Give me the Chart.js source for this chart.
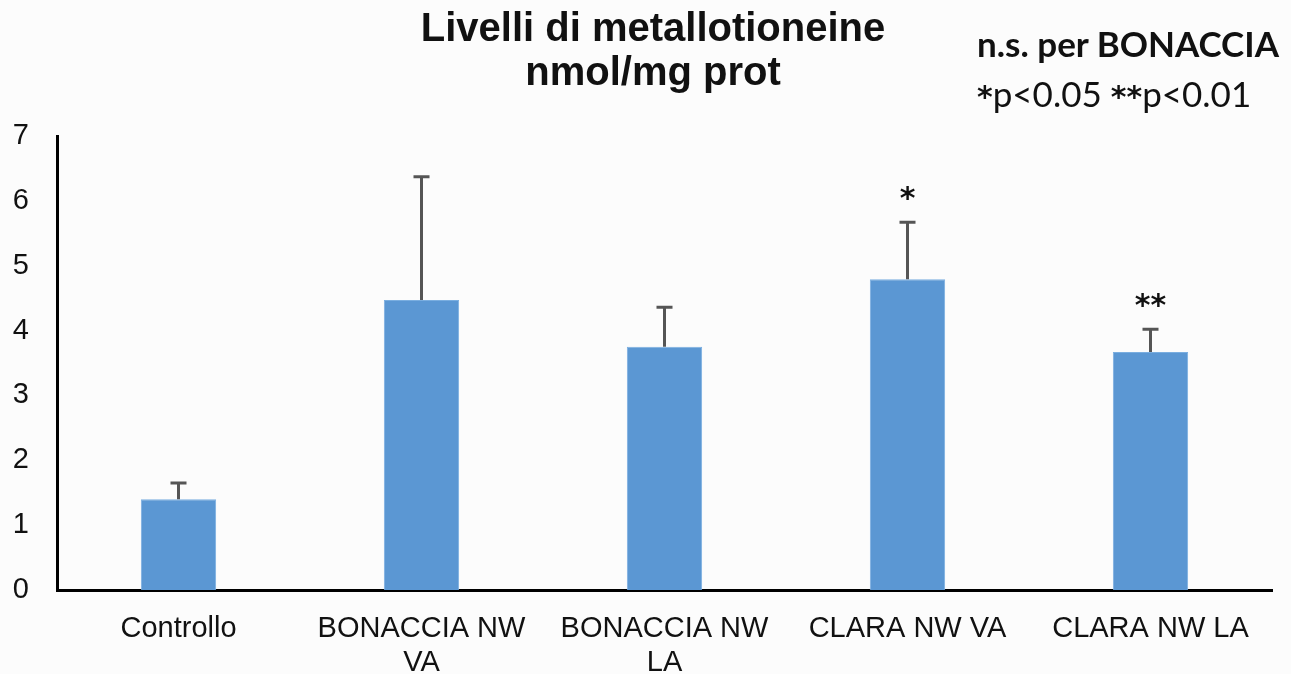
<!DOCTYPE html>
<html>
  <head>
    <meta charset="utf-8">
    <title>Livelli di metallotioneine</title>
    <script src="https://cdn.jsdelivr.net/npm/chart.js@4.4.1/dist/chart.umd.min.js"></script>
    <style>
      html, body { margin: 0; padding: 0; background: #fcfcfc; }
      #wrap { position: relative; width: 1291px; height: 674px; }
      #chart1 { position: absolute; left: 0; top: 0; }
      .title { position: absolute; left: 303px; width: 700px; text-align: center;
               font-family: "Liberation Sans", Arial, sans-serif; font-weight: bold; font-size: 40px; color: #111; }
      .note { position: absolute; left: 977px; font-family: Lato, "Open Sans", sans-serif; font-size: 35px; color: #111; white-space: nowrap; }
      .note b.ast { font-family: "DejaVu Sans", sans-serif; font-size: 30px; }
    </style>
  </head>
  <body>
    <div id="wrap">
      <canvas id="chart1" width="1291" height="674"></canvas>
      <div class="title" style="top:5px">Livelli di metallotioneine</div>
      <div class="title" style="top:49px">nmol/mg prot</div>
      <div class="note" style="top:22px;font-weight:bold">n.s. per BONACCIA</div>
      <div class="note" style="top:72px"><b class="ast">*</b>p&lt;0.05 <b class="ast">**</b>p&lt;0.01</div>
    </div>
    <script>
      var categories = [['Controllo'], ['BONACCIA NW', 'VA'], ['BONACCIA NW', 'LA'], ['CLARA NW VA'], ['CLARA NW LA']];
      var means  = [1.40, 4.47, 3.75, 4.79, 3.67];
      var errors = [0.25, 1.90, 0.61, 0.88, 0.35];
      var sigLabels = ['', '', '', '*', '**'];
      var yTicks = [0, 1, 2, 3, 4, 5, 6, 7];

      // barre di errore + asterischi
      var errPlugin = {
        id: 'errbars',
        afterDatasetsDraw: function(chart) {
          var ctx = chart.ctx;
          var ys = chart.scales.y;
          var meta = chart.getDatasetMeta(0);
          ctx.save();
          ctx.strokeStyle = '#555';
          ctx.lineWidth = 3;
          for (var i = 0; i < means.length; i++) {
            var x = meta.data[i].x;
            var y0 = ys.getPixelForValue(means[i]);
            var y1 = ys.getPixelForValue(means[i] + errors[i]);
            ctx.beginPath();
            ctx.moveTo(x, y0); ctx.lineTo(x, y1);
            ctx.moveTo(x - 8, y1); ctx.lineTo(x + 8, y1);
            ctx.stroke();
            if (sigLabels[i]) {
              ctx.fillStyle = '#111';
              ctx.font = 'bold 30px "DejaVu Sans", sans-serif';
              ctx.textAlign = 'center';
              ctx.textBaseline = 'middle';
              ctx.fillText(sigLabels[i], x, y1 - 22);
            }
          }
          ctx.restore();
        }
      };

      new Chart(document.getElementById('chart1').getContext('2d'), {
        type: 'bar',
        data: {
          labels: categories,
          datasets: [{
            data: means,
            backgroundColor: '#5B97D3',
            borderColor: '#7aaee0',
            borderWidth: 1,
            barPercentage: 0.31,
            categoryPercentage: 1
          }]
        },
        options: {
          responsive: false,
          animation: false,
          layout: { padding: { top: 136, right: 19, left: 0, bottom: 0 } },
          plugins: { legend: { display: false }, title: { display: false }, tooltip: { enabled: false } },
          scales: {
            x: {
              grid: { display: false, drawTicks: false },
              border: { display: true, color: '#000', width: 3 },
              ticks: { color: '#111', padding: 22, maxRotation: 0, autoSkip: false,
                       font: { family: '"Liberation Sans", Arial, sans-serif', size: 29, lineHeight: 1.17 } },
              afterFit: function(s) { s.height = 84; }
            },
            y: {
              min: 0, max: 7,
              afterBuildTicks: function(s) { s.ticks = yTicks.map(function(v) { return { value: v }; }); },
              grid: { display: false, drawTicks: false },
              border: { display: true, color: '#000', width: 3 },
              ticks: { color: '#111', padding: 28,
                       font: { family: '"Liberation Sans", Arial, sans-serif', size: 29 } },
              afterFit: function(s) { s.width = 57; }
            }
          }
        },
        plugins: [errPlugin]
      });
    </script>
  </body>
</html>
